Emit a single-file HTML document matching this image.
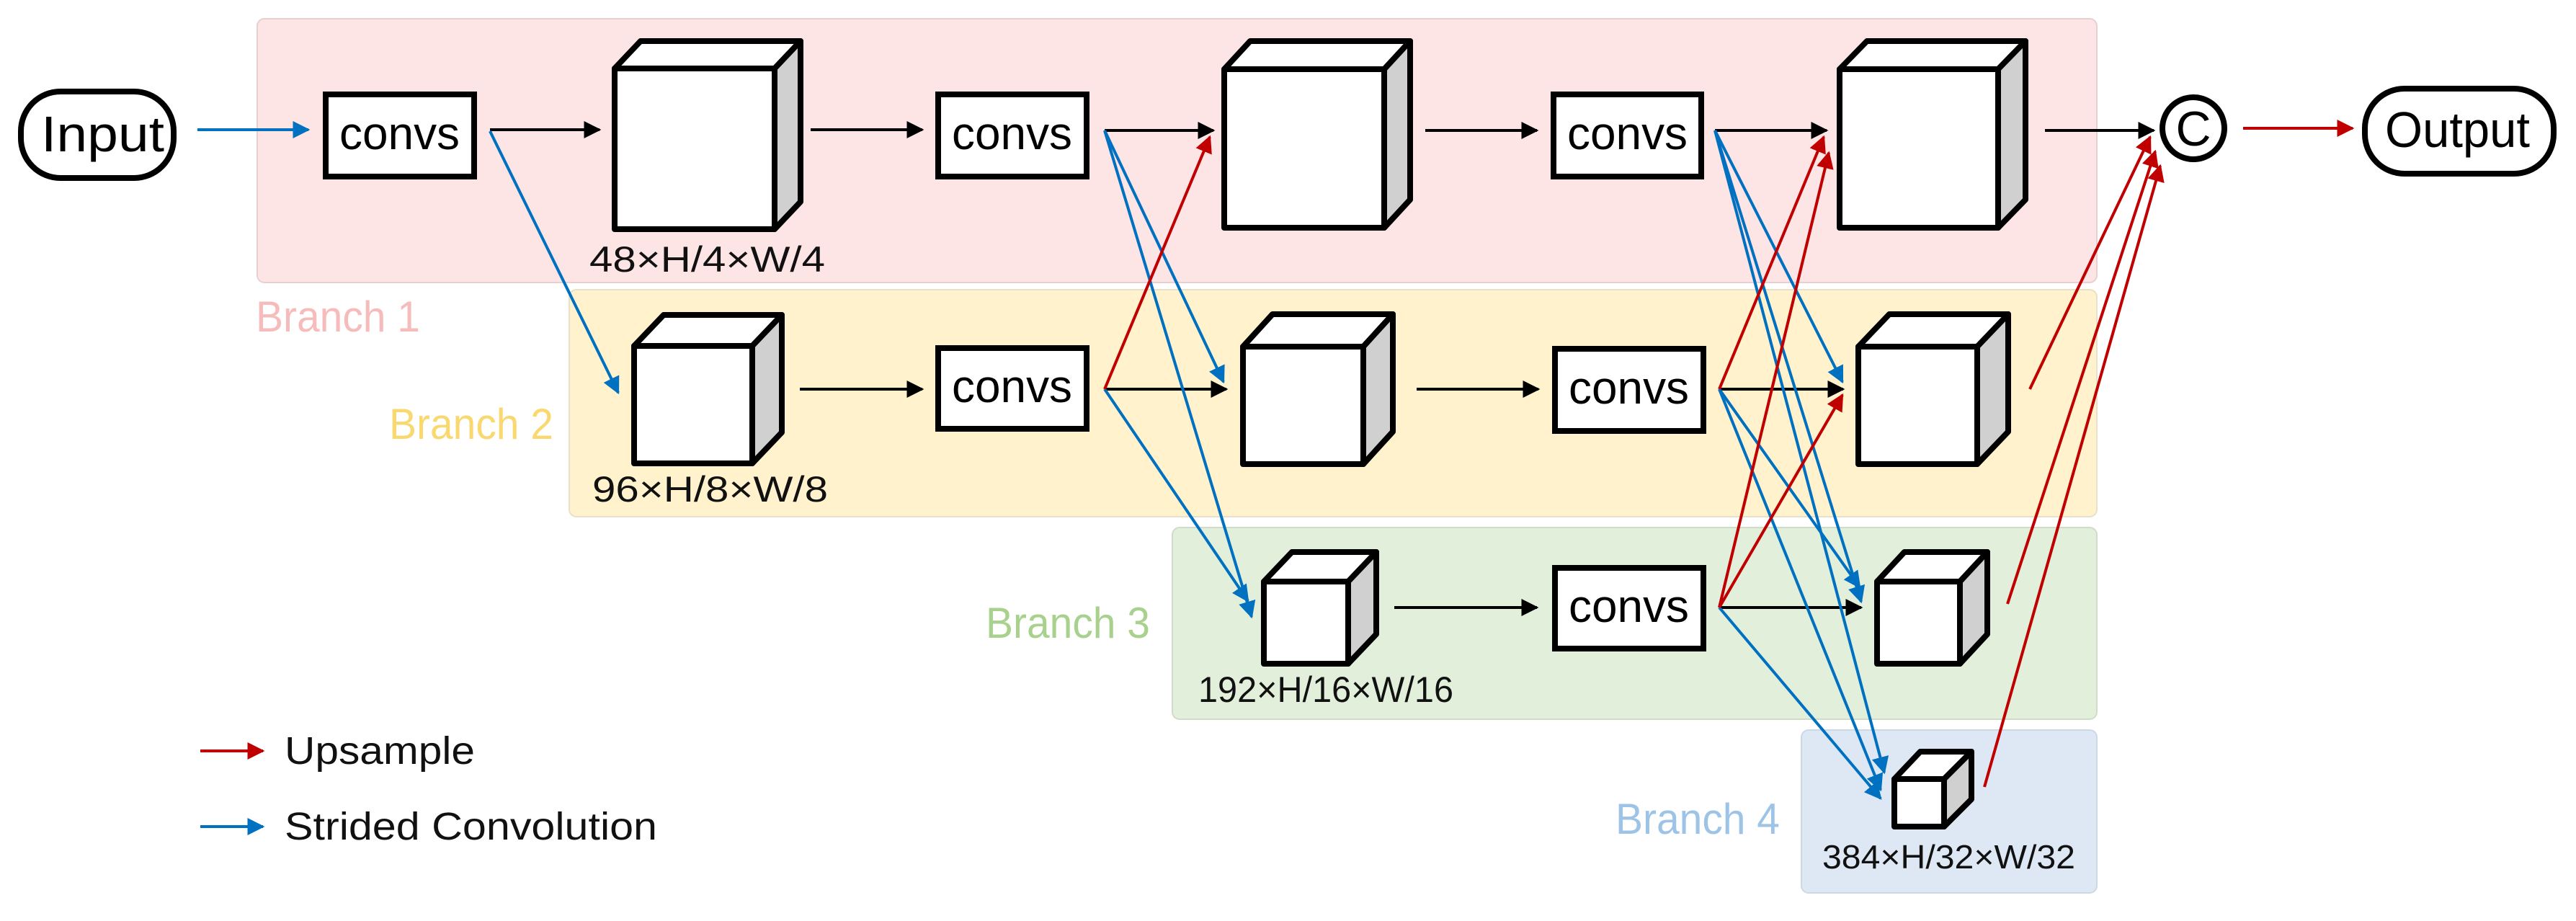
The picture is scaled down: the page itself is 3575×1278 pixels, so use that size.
<!DOCTYPE html>
<html><head><meta charset="utf-8"><style>
html,body{margin:0;padding:0;background:#fff;}
svg{display:block;}
text{font-family:"Liberation Sans","DejaVu Sans",sans-serif;}
</style></head><body>
<svg width="3575" height="1278" viewBox="0 0 3575 1278" xmlns="http://www.w3.org/2000/svg">
<defs>
<marker id="ak" viewBox="0 0 10 10" refX="9" refY="5" markerWidth="6" markerHeight="6" orient="auto" markerUnits="strokeWidth"><path d="M0,0 L10,5 L0,10 z" fill="#000"/></marker>
<marker id="ab" viewBox="0 0 10 10" refX="9" refY="5" markerWidth="6" markerHeight="6" orient="auto" markerUnits="strokeWidth"><path d="M0,0 L10,5 L0,10 z" fill="#0070c0"/></marker>
<marker id="ar" viewBox="0 0 10 10" refX="9" refY="5" markerWidth="6" markerHeight="6" orient="auto" markerUnits="strokeWidth"><path d="M0,0 L10,5 L0,10 z" fill="#c00000"/></marker>
</defs>
<rect x="357" y="26" width="2553" height="366" rx="10" fill="#fde4e5" stroke="#e8d0d0" stroke-width="2"/>
<rect x="790" y="402" width="2120" height="315" rx="10" fill="#fff2cc" stroke="#e8e0c8" stroke-width="2"/>
<rect x="1627" y="732" width="1283" height="266" rx="10" fill="#e2efda" stroke="#d0dcc8" stroke-width="2"/>
<rect x="2500" y="1013" width="410" height="226" rx="10" fill="#dde8f4" stroke="#ccd8e4" stroke-width="2"/>

<g font-size="60">
<text x="355" y="460" fill="#f6bcbc" textLength="228" lengthAdjust="spacingAndGlyphs">Branch 1</text>
<text x="540" y="609" fill="#fad870" textLength="228" lengthAdjust="spacingAndGlyphs">Branch 2</text>
<text x="1368" y="885" fill="#a9d18e" textLength="228" lengthAdjust="spacingAndGlyphs">Branch 3</text>
<text x="2242" y="1157" fill="#9dc3e6" textLength="228" lengthAdjust="spacingAndGlyphs">Branch 4</text>
</g>

<rect x="29" y="127" width="212" height="120" rx="55" fill="#fff" stroke="#000" stroke-width="8"/>
<text x="57" y="210" font-size="70" textLength="171" lengthAdjust="spacingAndGlyphs">Input</text>
<rect x="3282" y="123" width="262" height="118" rx="55" fill="#fff" stroke="#000" stroke-width="8"/>
<text x="3310" y="204" font-size="70" textLength="201" lengthAdjust="spacingAndGlyphs">Output</text>
<circle cx="3044" cy="178" r="43" fill="#fff" stroke="#000" stroke-width="8"/>
<text x="3044" y="202" font-size="68" text-anchor="middle">C</text>

<g fill="#fff" stroke="#000" stroke-width="8">
<rect x="452" y="131" width="206" height="114"/>
<rect x="1302" y="131" width="206" height="114"/>
<rect x="2156" y="131" width="205" height="114"/>
<rect x="1302" y="483" width="206" height="112"/>
<rect x="2158" y="484" width="206" height="114"/>
<rect x="2158" y="788" width="206" height="112"/>
</g>
<g font-size="64">
<text x="471" y="207" textLength="167" lengthAdjust="spacingAndGlyphs">convs</text>
<text x="1321" y="207" textLength="167" lengthAdjust="spacingAndGlyphs">convs</text>
<text x="2175" y="207" textLength="167" lengthAdjust="spacingAndGlyphs">convs</text>
<text x="1321" y="558" textLength="167" lengthAdjust="spacingAndGlyphs">convs</text>
<text x="2177" y="560" textLength="167" lengthAdjust="spacingAndGlyphs">convs</text>
<text x="2177" y="863" textLength="167" lengthAdjust="spacingAndGlyphs">convs</text>
</g>

<g stroke="#000" stroke-width="8" stroke-linejoin="round">
<polygon points="853,95 889,57 1111,57 1075,95" fill="#fff"/><polygon points="1075,95 1111,57 1111,280 1075,318" fill="#d0d0d0"/><rect x="853" y="95" width="222" height="223" fill="#fff"/>
<polygon points="1699,96 1735,57 1957,57 1921,96" fill="#fff"/><polygon points="1921,96 1957,57 1957,277 1921,316" fill="#d0d0d0"/><rect x="1699" y="96" width="222" height="220" fill="#fff"/>
<polygon points="2553,96 2591,57 2811,57 2773,96" fill="#fff"/><polygon points="2773,96 2811,57 2811,277 2773,316" fill="#d0d0d0"/><rect x="2553" y="96" width="220" height="220" fill="#fff"/>
<polygon points="880,480 921,437 1085,437 1044,480" fill="#fff"/><polygon points="1044,480 1085,437 1085,600 1044,643" fill="#d0d0d0"/><rect x="880" y="480" width="164" height="163" fill="#fff"/>
<polygon points="1725,481 1766,436 1933,436 1892,481" fill="#fff"/><polygon points="1892,481 1933,436 1933,599 1892,644" fill="#d0d0d0"/><rect x="1725" y="481" width="167" height="163" fill="#fff"/>
<polygon points="2579,481 2622,436 2787,436 2744,481" fill="#fff"/><polygon points="2744,481 2787,436 2787,599 2744,644" fill="#d0d0d0"/><rect x="2579" y="481" width="165" height="163" fill="#fff"/>
<polygon points="1754,807 1793,766 1910,766 1871,807" fill="#fff"/><polygon points="1871,807 1910,766 1910,880 1871,921" fill="#d0d0d0"/><rect x="1754" y="807" width="117" height="114" fill="#fff"/>
<polygon points="2605,807 2643,766 2758,766 2720,807" fill="#fff"/><polygon points="2720,807 2758,766 2758,880 2720,921" fill="#d0d0d0"/><rect x="2605" y="807" width="115" height="114" fill="#fff"/>
<polygon points="2629,1081 2665,1043 2736,1043 2698,1081" fill="#fff"/><polygon points="2698,1081 2736,1043 2736,1109 2698,1147" fill="#d0d0d0"/><rect x="2629" y="1081" width="69" height="66" fill="#fff"/>
</g>

<g font-size="50" fill="#111">
<text x="818" y="377" textLength="327" lengthAdjust="spacingAndGlyphs">48×H/4×W/4</text>
<text x="822" y="696" textLength="327" lengthAdjust="spacingAndGlyphs">96×H/8×W/8</text>
<text x="1663" y="974" textLength="354" lengthAdjust="spacingAndGlyphs">192×H/16×W/16</text>
<text x="2529" y="1205" font-size="46" textLength="351" lengthAdjust="spacingAndGlyphs">384×H/32×W/32</text>
</g>

<g stroke="#000" stroke-width="4" marker-end="url(#ak)" fill="none">
<line x1="680" y1="180" x2="832" y2="180"/>
<line x1="1125" y1="180" x2="1280" y2="180"/>
<line x1="1533" y1="181" x2="1684" y2="181"/>
<line x1="1978" y1="181" x2="2133" y2="181"/>
<line x1="2380" y1="181" x2="2535" y2="181"/>
<line x1="2838" y1="181" x2="2989" y2="181"/>
<line x1="1110" y1="540" x2="1280" y2="540"/>
<line x1="1533" y1="540" x2="1702" y2="540"/>
<line x1="1966" y1="540" x2="2135" y2="540"/>
<line x1="2386" y1="540" x2="2558" y2="540"/>
<line x1="1935" y1="843" x2="2133" y2="843"/>
<line x1="2386" y1="843" x2="2583" y2="843"/>
</g>

<g stroke="#0070c0" stroke-width="4" marker-end="url(#ab)" fill="none">
<line x1="274" y1="180" x2="428" y2="180"/>
<line x1="680" y1="182" x2="858" y2="545"/>
<line x1="1533" y1="181" x2="1698" y2="530"/>
<line x1="1533" y1="181" x2="1737" y2="856"/>
<line x1="1533" y1="540" x2="1732" y2="834"/>
<line x1="2380" y1="181" x2="2557" y2="530"/>
<line x1="2380" y1="181" x2="2583" y2="835"/>
<line x1="2380" y1="181" x2="2615" y2="1072"/>
<line x1="2386" y1="540" x2="2581" y2="815"/>
<line x1="2386" y1="540" x2="2610" y2="1096"/>
<line x1="2386" y1="843" x2="2610" y2="1108"/>
<line x1="278" y1="1147" x2="365" y2="1147"/>
</g>

<g stroke="#c00000" stroke-width="4" marker-end="url(#ar)" fill="none">
<line x1="1533" y1="540" x2="1679" y2="190"/>
<line x1="2386" y1="540" x2="2531" y2="190"/>
<line x1="2386" y1="843" x2="2538" y2="212"/>
<line x1="2386" y1="843" x2="2557" y2="548"/>
<line x1="2817" y1="540" x2="2984" y2="190"/>
<line x1="2786" y1="838" x2="2991" y2="210"/>
<line x1="2754" y1="1092" x2="2998" y2="230"/>
<line x1="3113" y1="178" x2="3265" y2="178"/>
<line x1="278" y1="1042" x2="365" y2="1042"/>
</g>

<text x="395" y="1060" font-size="54" fill="#111" textLength="264" lengthAdjust="spacingAndGlyphs">Upsample</text>
<text x="395" y="1165" font-size="54" fill="#111" textLength="517" lengthAdjust="spacingAndGlyphs">Strided Convolution</text>
</svg>
</body></html>
